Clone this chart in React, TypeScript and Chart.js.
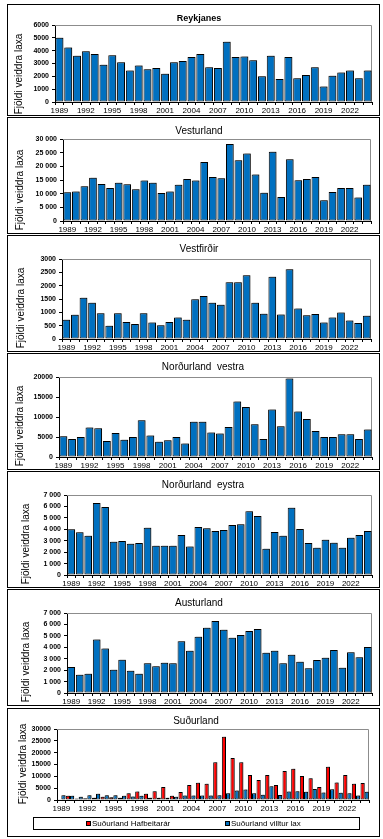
import React, { useEffect, useRef } from 'react';
import { Chart, registerables } from 'chart.js';

Chart.register(...registerables);

const YEARS = ['1989','1990','1991','1992','1993','1994','1995','1996','1997','1998','1999','2000','2001','2002','2003','2004','2005','2006','2007','2008','2009','2010','2011','2012','2013','2014','2015','2016','2017','2018','2019','2020','2021','2022','2023','2024'];

const reykjanes = [5000,4250,3600,3950,3750,2900,3650,3100,2450,2850,2550,2650,2200,3100,3200,3500,3750,2700,2650,4700,3500,3550,3250,2000,3600,1800,3500,1850,2100,2700,1200,2050,2300,2450,1850,2450];
const vesturland = [10500,10800,12700,15800,13500,12100,14000,13400,11600,14800,14000,10200,10800,13300,15400,14800,21600,16100,15600,28200,22200,24700,17000,10300,25300,8800,22600,14900,15400,16100,7600,10600,12100,12100,8600,13300];
const vestfirdir = [720,905,1550,1360,970,500,970,640,560,970,620,520,640,805,720,1490,1610,1360,1280,2130,2130,2390,1360,950,2330,920,2620,1140,890,940,620,805,990,690,600,870];
const nordurlandVestra = [5200,4500,5000,7400,7200,4000,6000,4300,5000,9200,5400,3800,4200,5000,3400,8800,8800,6100,5900,7500,13900,12500,8200,4500,11900,7700,19600,11400,9500,6500,5000,5000,5700,5700,4500,6900];
const nordurlandEystra = [4000,3730,3440,6300,5950,2920,2970,2740,2800,4140,2550,2570,2570,3500,2500,4200,4080,3850,3940,4370,4430,5570,5160,2300,3760,3440,5890,4020,2800,2390,3090,2830,2390,3270,3500,3850];
const austurland = [2270,1600,1690,4690,3900,2040,2920,1950,1690,2600,2330,2650,2600,4520,3700,4930,5710,6300,5540,4840,5070,5420,5600,3530,3700,2600,3350,2740,2160,2890,3090,3760,2220,3560,3120,4020];
const sudurlandHafbeit = [300,1800,600,700,1000,1400,1200,1000,2900,3600,2600,3700,5500,1800,3400,6300,7300,6900,16000,26700,17700,15900,10600,8400,10600,6300,12300,13200,10100,9200,5500,14000,7400,10600,6900,7200];
const sudurlandVilltur = [2000,1800,1400,2000,2600,2000,2000,1800,1500,1800,900,900,900,1400,1900,1900,1900,1900,2000,2800,4000,4400,2800,2200,5800,2100,3600,3700,3500,4600,3200,4500,3100,2800,1900,3500];

const Y_TITLE = 'Fjöldi veiddra laxa';
const LEGEND_HAF = 'Suðurland Hafbeitarár';
const LEGEND_VILL = 'Suðurland villtur lax';

const FONT = 'Arial, "Liberation Sans", Helvetica, sans-serif';
const BLUE = '#0070C0';
const RED = '#FF0000';

const plain = (v: number) => String(v);
const spaced = (v: number) => (v >= 1000 ? `${Math.floor(v / 1000)} ${String(v % 1000).padStart(3, '0')}` : String(v));

type Series = { label: string; data: number[]; color: string };
type PanelCfg = {
  title: string; titleFont: string;
  top: number; height: number;
  plotLeft: number; plotRight: number; plotTop: number; plotBottom: number;
  titleX: number; titleY: number; yTitleX: number; yTitleY: number;
  max: number; step: number; fmt: (v: number) => string;
  series: Series[]; cat: number; legend?: boolean;
};

const PANELS: PanelCfg[] = [
  { title: 'Reykjanes', titleFont: `bold 9px ${FONT}`, top: 4, height: 112, plotLeft: 55, plotRight: 372, plotTop: 25, plotBottom: 102, titleX: 199, titleY: 19, yTitleX: 19, yTitleY: 74, max: 6000, step: 1000, fmt: plain, series: [{ label: 'Reykjanes', data: reykjanes, color: BLUE }], cat: 0.9 },
  { title: 'Vesturland', titleFont: `10px ${FONT}`, top: 117, height: 117, plotLeft: 63, plotRight: 371, plotTop: 139, plotBottom: 221, titleX: 199, titleY: 131, yTitleX: 20, yTitleY: 190, max: 30000, step: 5000, fmt: spaced, series: [{ label: 'Vesturland', data: vesturland, color: BLUE }], cat: 0.9 },
  { title: 'Vestfirðir', titleFont: `10px ${FONT}`, top: 235, height: 117, plotLeft: 62, plotRight: 371, plotTop: 259, plotBottom: 339, titleX: 199, titleY: 249, yTitleX: 21, yTitleY: 308, max: 3000, step: 500, fmt: plain, series: [{ label: 'Vestfirðir', data: vestfirdir, color: BLUE }], cat: 0.9 },
  { title: 'Norðurland  vestra', titleFont: `10px ${FONT}`, top: 353, height: 117, plotLeft: 59, plotRight: 372, plotTop: 377, plotBottom: 457, titleX: 203, titleY: 367, yTitleX: 20, yTitleY: 426, max: 20000, step: 5000, fmt: plain, series: [{ label: 'Norðurland vestra', data: nordurlandVestra, color: BLUE }], cat: 0.9 },
  { title: 'Norðurland  eystra', titleFont: `10px ${FONT}`, top: 471, height: 117, plotLeft: 67, plotRight: 372, plotTop: 495, plotBottom: 575, titleX: 203, titleY: 485, yTitleX: 26, yTitleY: 544, max: 7000, step: 1000, fmt: spaced, series: [{ label: 'Norðurland eystra', data: nordurlandEystra, color: BLUE }], cat: 0.9 },
  { title: 'Austurland', titleFont: `10px ${FONT}`, top: 589, height: 117, plotLeft: 67, plotRight: 372, plotTop: 613, plotBottom: 693, titleX: 199, titleY: 603, yTitleX: 26, yTitleY: 662, max: 7000, step: 1000, fmt: spaced, series: [{ label: 'Austurland', data: austurland, color: BLUE }], cat: 0.9 },
  { title: 'Suðurland', titleFont: `10px ${FONT}`, top: 708, height: 129, plotLeft: 57, plotRight: 369, plotTop: 729, plotBottom: 800, titleX: 196, titleY: 721, yTitleX: 23, yTitleY: 764, max: 30000, step: 5000, fmt: plain, series: [{ label: LEGEND_HAF, data: sudurlandHafbeit, color: RED }, { label: LEGEND_VILL, data: sudurlandVilltur, color: BLUE }], cat: 0.96, legend: true },
];

const PANEL_LEFT = 7;
const PANEL_WIDTH = 373;

function Panel({ cfg }: { cfg: PanelCfg }) {
  const ref = useRef<HTMLCanvasElement | null>(null);
  useEffect(() => {
    const canvas = ref.current;
    if (!canvas) return;
    const offX = PANEL_LEFT + 1;
    const offY = cfg.top + 1;
    const cw = PANEL_WIDTH - 2;
    const ch = cfg.height - 2;
    const yW = cfg.plotLeft - offX;
    const xH = 12;
    const padTop = cfg.plotTop - offY;
    const padRight = offX + cw - cfg.plotRight;
    const padBottom = Math.max(0, offY + ch - cfg.plotBottom - xH);

    const decor = {
      id: 'decor',
      beforeDatasetsDraw(chart: any) {
        const { ctx, chartArea: a } = chart;
        ctx.save();
        ctx.strokeStyle = '#8c8c8c';
        ctx.lineWidth = 1;
        ctx.beginPath();
        ctx.moveTo(a.left, a.top + 0.5);
        ctx.lineTo(a.right - 0.5, a.top + 0.5);
        ctx.lineTo(a.right - 0.5, a.bottom);
        ctx.stroke();
        ctx.restore();
        ctx.save();
        ctx.shadowColor = 'rgba(0,0,0,0.35)';
        ctx.shadowOffsetX = 1.5;
        ctx.shadowOffsetY = -1.5;
        ctx.shadowBlur = 0;
      },
      afterDatasetsDraw(chart: any) {
        chart.ctx.restore();
      },
      afterDraw(chart: any) {
        const ctx = chart.ctx;
        ctx.save();
        ctx.fillStyle = '#000';
        ctx.font = cfg.titleFont;
        ctx.textAlign = 'center';
        ctx.textBaseline = 'middle';
        ctx.fillText(cfg.title, cfg.titleX - offX, cfg.titleY - offY);
        ctx.translate(cfg.yTitleX - offX, cfg.yTitleY - offY);
        ctx.rotate(-Math.PI / 2);
        ctx.font = `10px ${FONT}`;
        ctx.fillText(Y_TITLE, 0, 0);
        ctx.restore();
      },
    };

    const chart = new Chart(canvas, {
      type: 'bar',
      data: {
        labels: YEARS,
        datasets: cfg.series.map((s) => ({
          label: s.label,
          data: s.data,
          backgroundColor: s.color,
          borderColor: '#000',
          borderWidth: 1,
          borderSkipped: false,
          barPercentage: 1,
          categoryPercentage: cfg.cat,
        })),
      },
      options: {
        animation: false,
        responsive: false,
        devicePixelRatio: 1,
        layout: { padding: { top: padTop, right: padRight, bottom: padBottom, left: 0 } },
        plugins: { legend: { display: false }, title: { display: false }, tooltip: { enabled: false } },
        scales: {
          x: {
            offset: true,
            grid: { display: true, drawOnChartArea: false, offset: true, tickLength: 3, color: '#000' },
            border: { display: true, color: '#000', width: 1 },
            ticks: {
              autoSkip: false, maxRotation: 0, minRotation: 0, padding: 1, color: '#000',
              font: { family: FONT, size: 8 },
              callback: (_v: any, i: number) => (i % 3 === 0 ? YEARS[i] : ''),
            },
            afterFit: (s: any) => { s.height = xH; },
          },
          y: {
            min: 0, max: cfg.max,
            grid: { display: true, drawOnChartArea: false, tickLength: 3, color: '#000' },
            border: { display: true, color: '#000', width: 1 },
            ticks: {
              stepSize: cfg.step, padding: 3, color: '#000',
              font: { family: FONT, size: 7, weight: 'bold' },
              callback: (v: any) => cfg.fmt(Number(v)),
            },
            afterFit: (s: any) => { s.width = yW; },
          },
        },
      } as any,
      plugins: [decor],
    });
    return () => chart.destroy();
  }, [cfg]);

  return (
    <div style={{ position: 'absolute', left: PANEL_LEFT, top: cfg.top, width: PANEL_WIDTH - 2, height: cfg.height - 2, border: '1px solid #000', background: '#fff' }}>
      <canvas ref={ref} width={PANEL_WIDTH - 2} height={cfg.height - 2} style={{ display: 'block' }} />
      {cfg.legend && (
        <div style={{ position: 'absolute', left: 33 - PANEL_LEFT - 1, top: 817 - cfg.top - 1, width: 325, height: 11, border: '1px solid #000', fontFamily: FONT, fontSize: 8, color: '#000', lineHeight: '11px', whiteSpace: 'nowrap' }}>
          <span style={{ position: 'absolute', left: 86 - 34, top: 3, width: 3, height: 3, background: RED, border: '1px solid #000' }} />
          <span style={{ position: 'absolute', left: 92 - 34, top: 0 }}>{LEGEND_HAF}</span>
          <span style={{ position: 'absolute', left: 225 - 34, top: 3, width: 3, height: 3, background: BLUE, border: '1px solid #000' }} />
          <span style={{ position: 'absolute', left: 231 - 34, top: 0 }}>{LEGEND_VILL}</span>
        </div>
      )}
    </div>
  );
}

export default function App() {
  return (
    <div style={{ position: 'absolute', left: 0, top: 0, width: 383, height: 839, background: '#fff' }}>
      {PANELS.map((p) => (
        <Panel key={p.title} cfg={p} />
      ))}
    </div>
  );
}
